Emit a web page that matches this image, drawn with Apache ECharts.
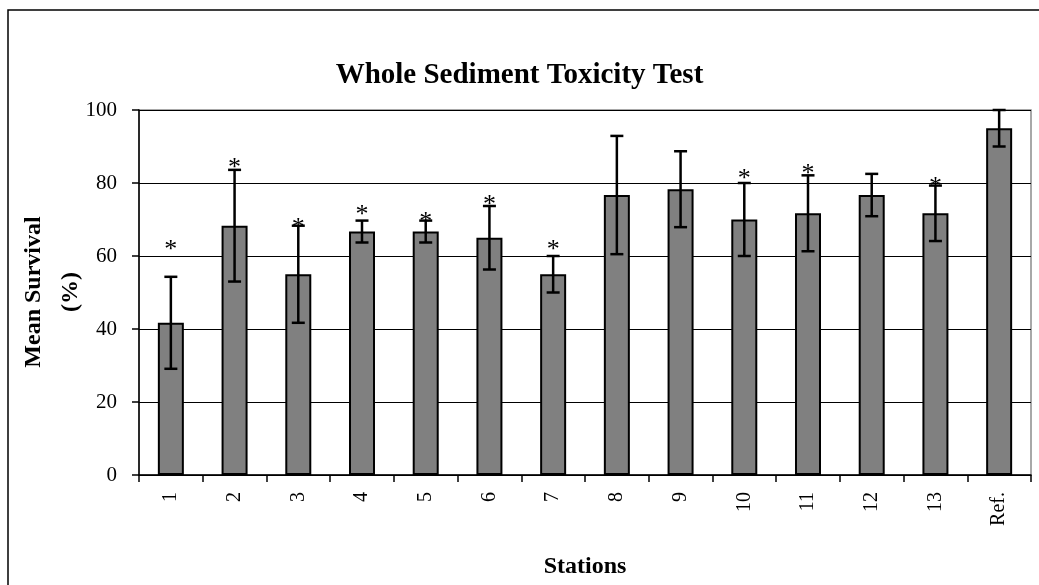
<!DOCTYPE html>
<html>
<head>
<meta charset="utf-8">
<script src="https://cdn.jsdelivr.net/npm/echarts@6/dist/echarts.min.js"></script>
<style>
  html, body { margin: 0; padding: 0; background: #fff; }
  #main { width: 1039px; height: 585px; }
</style>
</head>
<body>
<div id="main"></div>
<script>
// stations along the x axis
var stations = ['1', '2', '3', '4', '5', '6', '7', '8', '9', '10', '11', '12', '13', 'Ref.'];
// mean survival (%) per station
var meanSurvival = [41.7, 68.3, 55.0, 66.7, 66.7, 65.0, 55.0, 76.7, 78.3, 70.0, 71.7, 76.7, 71.7, 95.0];
// error bar half-length (+/-)
var errorSize = [12.6, 15.3, 13.3, 3.0, 3.0, 8.7, 5.0, 16.2, 10.4, 10.0, 10.4, 5.8, 7.6, 5.0];
// where the significance asterisks sit (null = no asterisk)
var starLevel = [62.7, 85.2, 68.8, 72.2, 70.4, 74.9, 62.8, null, null, 82.2, 83.6, null, 79.9, null];
var yTicks = [0, 20, 40, 60, 80, 100];

var serif = "'Liberation Serif', 'Times New Roman', serif";

var errData = meanSurvival.map(function (v, i) {
    return [i, v - errorSize[i], v + errorSize[i]];
});
var starData = [];
starLevel.forEach(function (v, i) {
    if (v != null) starData.push([i, v]);
});

var myChart = echarts.init(document.getElementById('main'));
myChart.setOption({
    animation: false,
    backgroundColor: '#fff',
    title: {
        text: 'Whole Sediment Toxicity Test',
        left: 'center',
        top: 56,
        textStyle: { fontFamily: serif, fontSize: 29, fontWeight: 'bold', color: '#000' }
    },
    graphic: [{
        type: 'rect',
        shape: { x: 8, y: 10, width: 1060, height: 620 },
        style: { fill: 'none', stroke: '#000', lineWidth: 1.5 },
        silent: true
    }, {
        // y axis title, two lines, rotated
        type: 'text',
        x: 52, y: 292,
        rotation: Math.PI / 2,
        style: {
            text: 'Mean Survival\n(%)',
            fontFamily: serif, fontSize: 24, fontWeight: 'bold', fill: '#000',
            lineHeight: 37, align: 'center', verticalAlign: 'middle'
        },
        silent: true
    }, {
        // x axis title
        type: 'text',
        x: 585, y: 567,
        style: {
            text: 'Stations',
            fontFamily: serif, fontSize: 24, fontWeight: 'bold', fill: '#000',
            align: 'center', verticalAlign: 'middle'
        },
        silent: true
    }],
    grid: {
        left: 139, top: 110, right: 8, bottom: 110,
        outerBoundsMode: 'none',
        containLabel: false,
        show: true, borderColor: '#8c8c8c', borderWidth: 1.5
    },
    xAxis: {
        type: 'category',
        data: stations,
        axisLine: { lineStyle: { color: '#000', width: 1.5 } },
        axisTick: { show: true, length: 7, lineStyle: { color: '#000', width: 1.5 } },
        axisLabel: { rotate: 90, margin: 17, fontFamily: serif, fontSize: 20, color: '#000' }
    },
    yAxis: {
        type: 'value',
        min: 0, max: 100, interval: 20,
        axisLine: { show: true, lineStyle: { color: '#000', width: 1.5 } },
        axisTick: { show: true, length: 7, lineStyle: { color: '#000', width: 1.5 } },
        splitLine: { lineStyle: { color: '#000', width: 1 } },
        axisLabel: {
            margin: 22, fontFamily: serif, fontSize: 21, color: '#000',
            formatter: function (v) { return yTicks.indexOf(v) >= 0 ? String(v) : ''; }
        }
    },
    series: [{
        type: 'bar',
        data: meanSurvival,
        barWidth: 26,
        itemStyle: { color: '#808080', borderColor: '#000', borderWidth: 2 }
    }, {
        type: 'custom',
        data: errData,
        z: 5,
        renderItem: function (params, api) {
            var i = api.value(0);
            var lo = api.coord([i, api.value(1)]);
            var hi = api.coord([i, api.value(2)]);
            var cap = 6.5;
            var st = { stroke: '#000', lineWidth: 2.5 };
            return {
                type: 'group',
                children: [
                    { type: 'line', shape: { x1: hi[0], y1: hi[1], x2: lo[0], y2: lo[1] }, style: st },
                    { type: 'line', shape: { x1: hi[0] - cap, y1: hi[1], x2: hi[0] + cap, y2: hi[1] }, style: st },
                    { type: 'line', shape: { x1: lo[0] - cap, y1: lo[1], x2: lo[0] + cap, y2: lo[1] }, style: st }
                ]
            };
        }
    }, {
        type: 'custom',
        data: starData,
        z: 6,
        renderItem: function (params, api) {
            var p = api.coord([api.value(0), api.value(1)]);
            return {
                type: 'text',
                x: p[0], y: p[1] + 4,
                style: { text: '*', fontFamily: serif, fontSize: 26, fill: '#000', align: 'center', verticalAlign: 'middle' }
            };
        }
    }]
});
</script>
</body>
</html>
